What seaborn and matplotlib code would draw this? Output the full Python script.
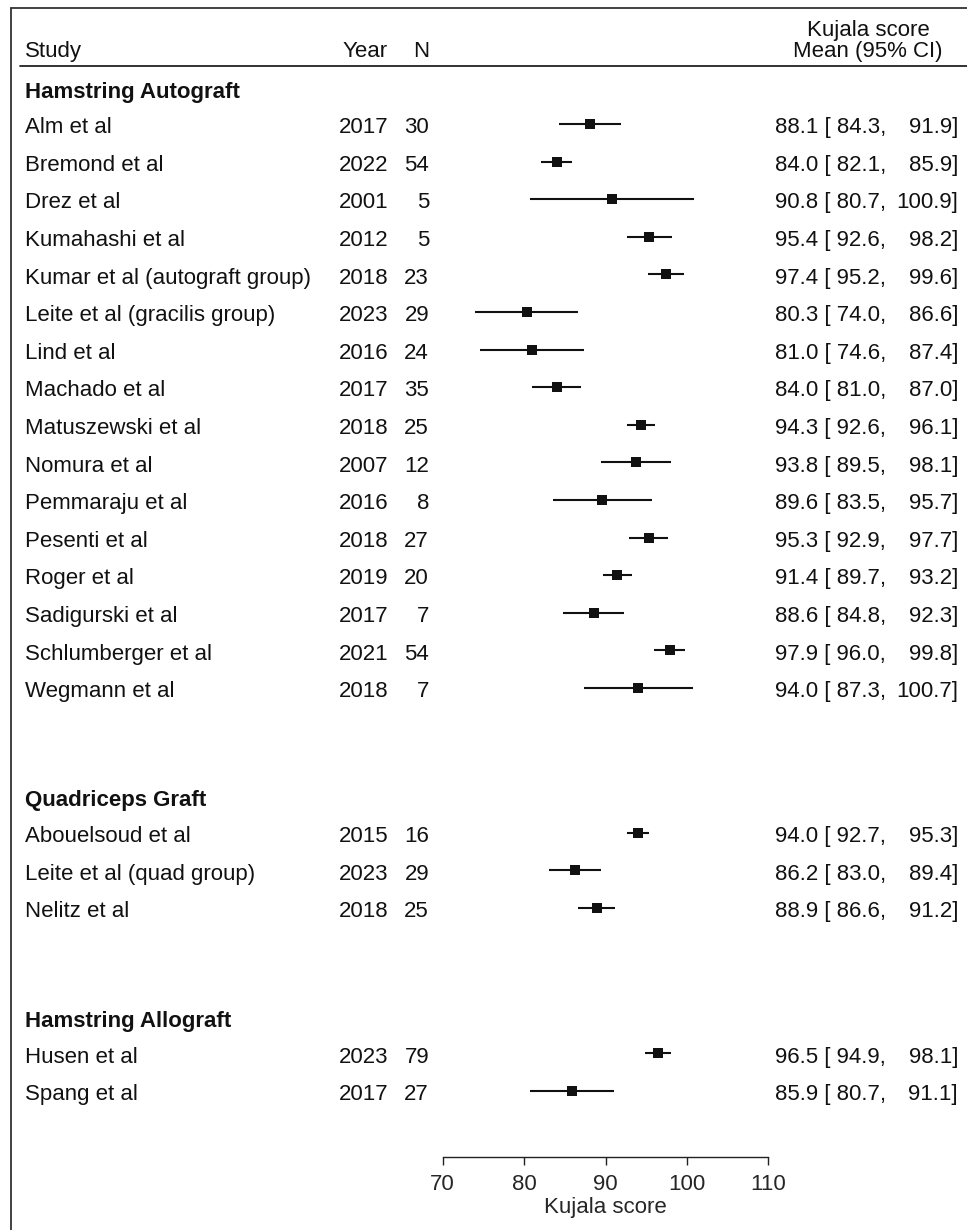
import numpy as np
import pandas as pd
import matplotlib
matplotlib.use("Agg")
import matplotlib.pyplot as plt
from matplotlib.lines import Line2D
from matplotlib.transforms import blended_transform_factory
import seaborn as sns

# ---- data -------------------------------------------------------------
groups = ["Hamstring Autograft", "Quadriceps Graft", "Hamstring Allograft"]

studies = [
    "Alm et al", "Bremond et al", "Drez et al", "Kumahashi et al",
    "Kumar et al (autograft group)", "Leite et al (gracilis group)", "Lind et al",
    "Machado et al", "Matuszewski et al", "Nomura et al", "Pemmaraju et al",
    "Pesenti et al", "Roger et al", "Sadigurski et al", "Schlumberger et al",
    "Wegmann et al",
    "Abouelsoud et al", "Leite et al (quad group)", "Nelitz et al",
    "Husen et al", "Spang et al",
]
group_of = [groups[0]] * 16 + [groups[1]] * 3 + [groups[2]] * 2
years = [2017, 2022, 2001, 2012, 2018, 2023, 2016, 2017, 2018, 2007, 2016,
         2018, 2019, 2017, 2021, 2018,
         2015, 2023, 2018,
         2023, 2017]
n_patients = [30, 54, 5, 5, 23, 29, 24, 35, 25, 12, 8, 27, 20, 7, 54, 7,
              16, 29, 25,
              79, 27]
means = [88.1, 84.0, 90.8, 95.4, 97.4, 80.3, 81.0, 84.0, 94.3, 93.8, 89.6,
         95.3, 91.4, 88.6, 97.9, 94.0,
         94.0, 86.2, 88.9,
         96.5, 85.9]
lowers = [84.3, 82.1, 80.7, 92.6, 95.2, 74.0, 74.6, 81.0, 92.6, 89.5, 83.5,
          92.9, 89.7, 84.8, 96.0, 87.3,
          92.7, 83.0, 86.6,
          94.9, 80.7]
uppers = [91.9, 85.9, 100.9, 98.2, 99.6, 86.6, 87.4, 87.0, 96.1, 98.1, 95.7,
          97.7, 93.2, 92.3, 99.8, 100.7,
          95.3, 89.4, 91.2,
          98.1, 91.1]
x_ticks = [70, 80, 90, 100, 110]

df = pd.DataFrame({"study": studies, "group": group_of, "year": years,
                   "n": n_patients, "mean": means, "lo": lowers, "hi": uppers})

# ---- row layout (one unit per study line, gaps between subgroups) -----
group_start = {groups[0]: 0.0, groups[1]: 18.85, groups[2]: 24.72}
row = []
for g in groups:
    k = (df["group"] == g).sum()
    row.extend(group_start[g] + np.arange(k))
df["row"] = row

# ---- figure ----------------------------------------------------------
W, H = 967, 1230
sns.set_style("white")
plt.rcParams["font.family"] = ["Liberation Sans", "DejaVu Sans"]
FS = 16
INK = "#111111"

fig = plt.figure(figsize=(W / 100, H / 100), dpi=100)
x0, x1 = 442.7, 768.3           # pixel extent of the 70..110 scale
axis_px = 1157                  # pixel row of the x-axis line
ax = fig.add_axes([x0 / W, (H - axis_px) / H, (x1 - x0) / W, axis_px / H])
ax.set_xlim(70, 110)
row_px0, row_step = 124.0, 37.6
ax.set_ylim((axis_px - row_px0) / row_step, -row_px0 / row_step)

# confidence intervals and point estimates
ax.hlines(df["row"], df["lo"], df["hi"], color=INK, lw=1.5, zorder=2)
sns.scatterplot(data=df, x="mean", y="row", marker="s", s=52, color=INK,
                edgecolor=INK, linewidth=0, ax=ax, zorder=3, legend=False)

# axis styling
for side in ["top", "right", "left"]:
    ax.spines[side].set_visible(False)
ax.spines["bottom"].set_color("#222222")
ax.spines["bottom"].set_linewidth(1.0)
ax.spines["bottom"].set_bounds(70, 110)
ax.set_xticks(x_ticks)
ax.set_xticklabels([str(t) for t in x_ticks])
ax.tick_params(axis="x", direction="out", length=6, width=1.0,
               color="#222222", labelsize=FS, pad=6.5, bottom=True)
ax.set_yticks([])
ax.set_ylabel("")
ax.set_xlabel("Kujala score", fontsize=FS, labelpad=1)
ax.patch.set_alpha(0)

# text columns: x in figure pixels, y in row units
tr = blended_transform_factory(fig.transFigure, ax.transData)
TXT_DY = 0.1   # nudge so glyphs sit centred on the marker line


def put(xpx, y, s, ha="left", weight="normal"):
    ax.text(xpx / W, y + TXT_DY, s, transform=tr, ha=ha, va="center",
            fontsize=FS, color=INK, fontweight=weight, clip_on=False)


X_STUDY, X_YEAR, X_N, X_CI_L, X_CI_R = 25, 388, 429, 775, 958

for _, r in df.iterrows():
    put(X_STUDY, r["row"], r["study"])
    put(X_YEAR, r["row"], str(r["year"]), ha="right")
    put(X_N, r["row"], str(r["n"]), ha="right")
    put(X_CI_L, r["row"], f"{r['mean']:.1f} [ {r['lo']:.1f},")
    put(X_CI_R, r["row"], f"{r['hi']:.1f}]", ha="right")

for g in groups:
    put(X_STUDY, group_start[g] - 0.95, g, weight="bold")

# column headers
y_head = (48 - row_px0) / row_step
put(X_STUDY, y_head, "Study")
put(X_YEAR, y_head, "Year", ha="right")
put(X_N, y_head, "N", ha="right")
put(868, y_head, "Mean (95% CI)", ha="center")
put(868, (27 - row_px0) / row_step, "Kujala score", ha="center")

# rule under headers and the outer frame
fig.add_artist(Line2D([20 / W, 1.0], [1 - 65.5 / H] * 2, transform=fig.transFigure,
                      color="#222222", lw=1.3))
fig.add_artist(Line2D([10.5 / W, 10.5 / W], [0, 1 - 8 / H], transform=fig.transFigure,
                      color="#333333", lw=1.3))
fig.add_artist(Line2D([10.5 / W, 1.0], [1 - 8 / H] * 2, transform=fig.transFigure,
                      color="#333333", lw=1.3))

fig.savefig("out.png", dpi=100, facecolor="white")
